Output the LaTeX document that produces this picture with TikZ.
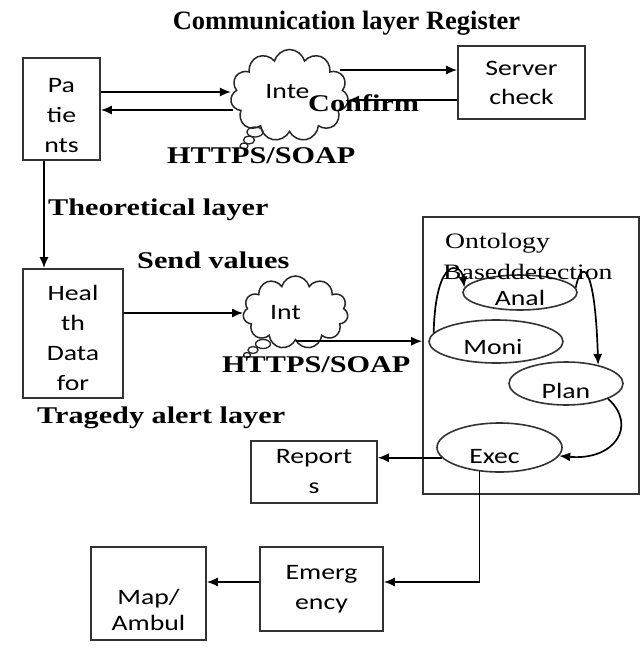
\documentclass[tikz,border=0pt]{standalone}
\usepackage{fontspec}
\usepackage{graphicx}
\setmainfont{Liberation Serif}
\newfontfamily\calib{Carlito}
\usetikzlibrary{shapes.geometric,shapes.symbols,arrows.meta,calc}
\newcommand\hstr[1]{\scalebox{1.26}[1]{#1}}
\begin{document}
\begin{tikzpicture}[x=1pt,y=-1pt,
  box/.style={draw=black!80, line width=1.6pt, inner sep=0pt, align=center, font=\calib\fontsize{22}{30}\selectfont},
  ell/.style={ellipse, draw=black!80, line width=1.6pt, inner sep=0pt},
  bub/.style={ellipse, draw=black!85, line width=1.3pt, inner sep=0pt},
  etxt/.style={font=\calib\fontsize{22}{26}\selectfont, inner sep=0pt},
  arr/.style={-{Latex[length=11pt,width=9pt]}, line width=1.7pt},
  bl/.style={font=\bfseries\fontsize{24}{28}\selectfont, inner sep=0pt, anchor=base west},
  rl/.style={font=\fontsize{22}{26}\selectfont, inner sep=0pt, anchor=base west},
  thought/.style={cloud, cloud puffs=11, cloud ignores aspect, draw=black!85, line width=1.5pt, inner sep=0pt}
]
\fill[white] (0,0) rectangle (640,650);
\useasboundingbox (0,0) rectangle (640,650);

\node[font=\bfseries\fontsize{26.5}{30}\selectfont, inner sep=0pt, anchor=base] (title) at (346.5,30) {Communication layer Register};

% boxes
\node[box, minimum width=77pt, minimum height=102pt] (patients) at (61.5,109) {\rule{0pt}{27pt}\hstr{Pa}\\\hstr{tie}\\\hstr{nts}};
\node[box, minimum width=127pt, minimum height=73pt] (server) at (521.5,82.5) {\hstr{Server}\\[-1pt]\hstr{check}};
\node[box, minimum width=100pt, minimum height=129pt] (health) at (73,333.5) {\rule{0pt}{25pt}\hstr{Heal}\\\hstr{th}\\\hstr{Data}\\\hstr{for}};
\node[box, minimum width=126pt, minimum height=62pt] (reports) at (314,472) {\hstr{Report}\\\hstr{s}};
\node[box, minimum width=123pt, minimum height=84pt] (emergency) at (321.5,589) {\hstr{Emerg}\\\hstr{ency}};
\node[box, minimum width=115pt, minimum height=93pt] (map) at (148.5,593.5) {\rule{0pt}{48pt}\hstr{Map/}\\[-4pt]\hstr{Ambul}};
\node[draw=black!80, line width=1.6pt, minimum width=216pt, minimum height=277pt, inner sep=0pt] (onto) at (531,355.5) {};

% clouds
\node[thought, minimum width=118pt, minimum height=92pt, label={[etxt,xshift=-2pt,yshift=4pt]center:\hstr{Inte}}] (cloud1) at (289.5,95.5) {};
\node[bub, minimum width=16pt, minimum height=10pt] (b11) at (255,132) {};
\node[bub, minimum width=11pt, minimum height=8pt] (b12) at (249,140) {};
\node[bub, minimum width=8pt, minimum height=6pt] (b13) at (244,146) {};
\node[thought, minimum width=105pt, minimum height=73pt, label={[etxt,xshift=-10pt]center:\hstr{Int}}] (cloud2) at (295.5,312.5) {};
\node[bub, minimum width=15pt, minimum height=9pt] (b21) at (263,344) {};
\node[bub, minimum width=10pt, minimum height=7pt] (b22) at (253,350) {};
\node[bub, minimum width=7pt, minimum height=5pt] (b23) at (247,355) {};

% ellipses
\node[ell, minimum width=114pt, minimum height=35pt, label={[etxt,yshift=-5pt]center:\hstr{Anal}}] (anal) at (520,292.5) {};
\node[ell, minimum width=134pt, minimum height=43pt, label={[etxt,xshift=-3pt,yshift=-6pt]center:\hstr{Moni}}] (moni) at (496,341.5) {};
\node[ell, minimum width=114pt, minimum height=43pt, label={[etxt,yshift=-7pt]center:\hstr{Plan}}] (plan) at (566,383.5) {};
\node[ell, minimum width=125pt, minimum height=49pt, label={[etxt,xshift=-5pt,yshift=-9pt]center:\hstr{Exec}}] (exec) at (499.5,447.5) {};

% texts
\node[rl] (ont1) at (445,248) {\hstr{Ontology}};
\node[rl] (ont2) at (443,279) {\hstr{Baseddetection}};
\node[bl] (theo) at (48,215) {\hstr{Theoretical layer}};
\node[bl] (send) at (137,268) {\hstr{Send values}};
\node[bl] (trag) at (37,423) {\hstr{Tragedy alert layer}};
\node[bl] (https1) at (167,163) {\hstr{HTTPS/SOAP}};
\node[bl] (https2) at (222,372) {\hstr{HTTPS/SOAP}};

% connectors
\draw[arr] ($(patients.east)+(0pt,17pt)$) -- ($(patients.east -| cloud1.west)+(0pt,17pt)$);
\draw[arr] ($(patients.east -| cloud1.west)+(2pt,-1pt)$) -- ($(patients.east)+(0pt,-1pt)$);
\draw[arr] ($(cloud1.east |- server.west)+(-8pt,12.5pt)$) -- ($(server.west)+(0pt,12.5pt)$);
\draw[arr] ($(server.west)+(0pt,-17.5pt)$) -- ($(cloud1.east |- server.west)+(0pt,-17.5pt)$);
\node[bl] (confirm) at (308,112) {\hstr{Confirm}};
\draw[arr] ($(patients.south)+(-17.5pt,0pt)$) -- ($(patients.south |- health.north)+(-17.5pt,0pt)$);
\draw[arr] ($(health.east)+(0pt,20.5pt)$) -- ($(health.east -| cloud2.west)+(0pt,20.5pt)$);
\draw[arr] (cloud2.south) -- (cloud2.south -| onto.west);

\draw[arr] (moni.172) .. controls +(2,-78) and +(-3,-25) .. (anal.175);
\draw[arr] (anal.5) .. controls +(6,-30) and +(-3,-100) .. (plan.30);
\draw[arr] (plan.-20) .. controls +(30,27) and +(55,5) .. (exec.-8);

\draw[arr] (exec.190) -- (exec.190 -| reports.east);
\draw[arr] (exec.230) |- ($(emergency.east)+(0pt,7pt)$);
\draw[arr] ($(emergency.west)+(0pt,7pt)$) -- ($(emergency.west -| map.east)+(0pt,7pt)$);
\end{tikzpicture}
\end{document}
